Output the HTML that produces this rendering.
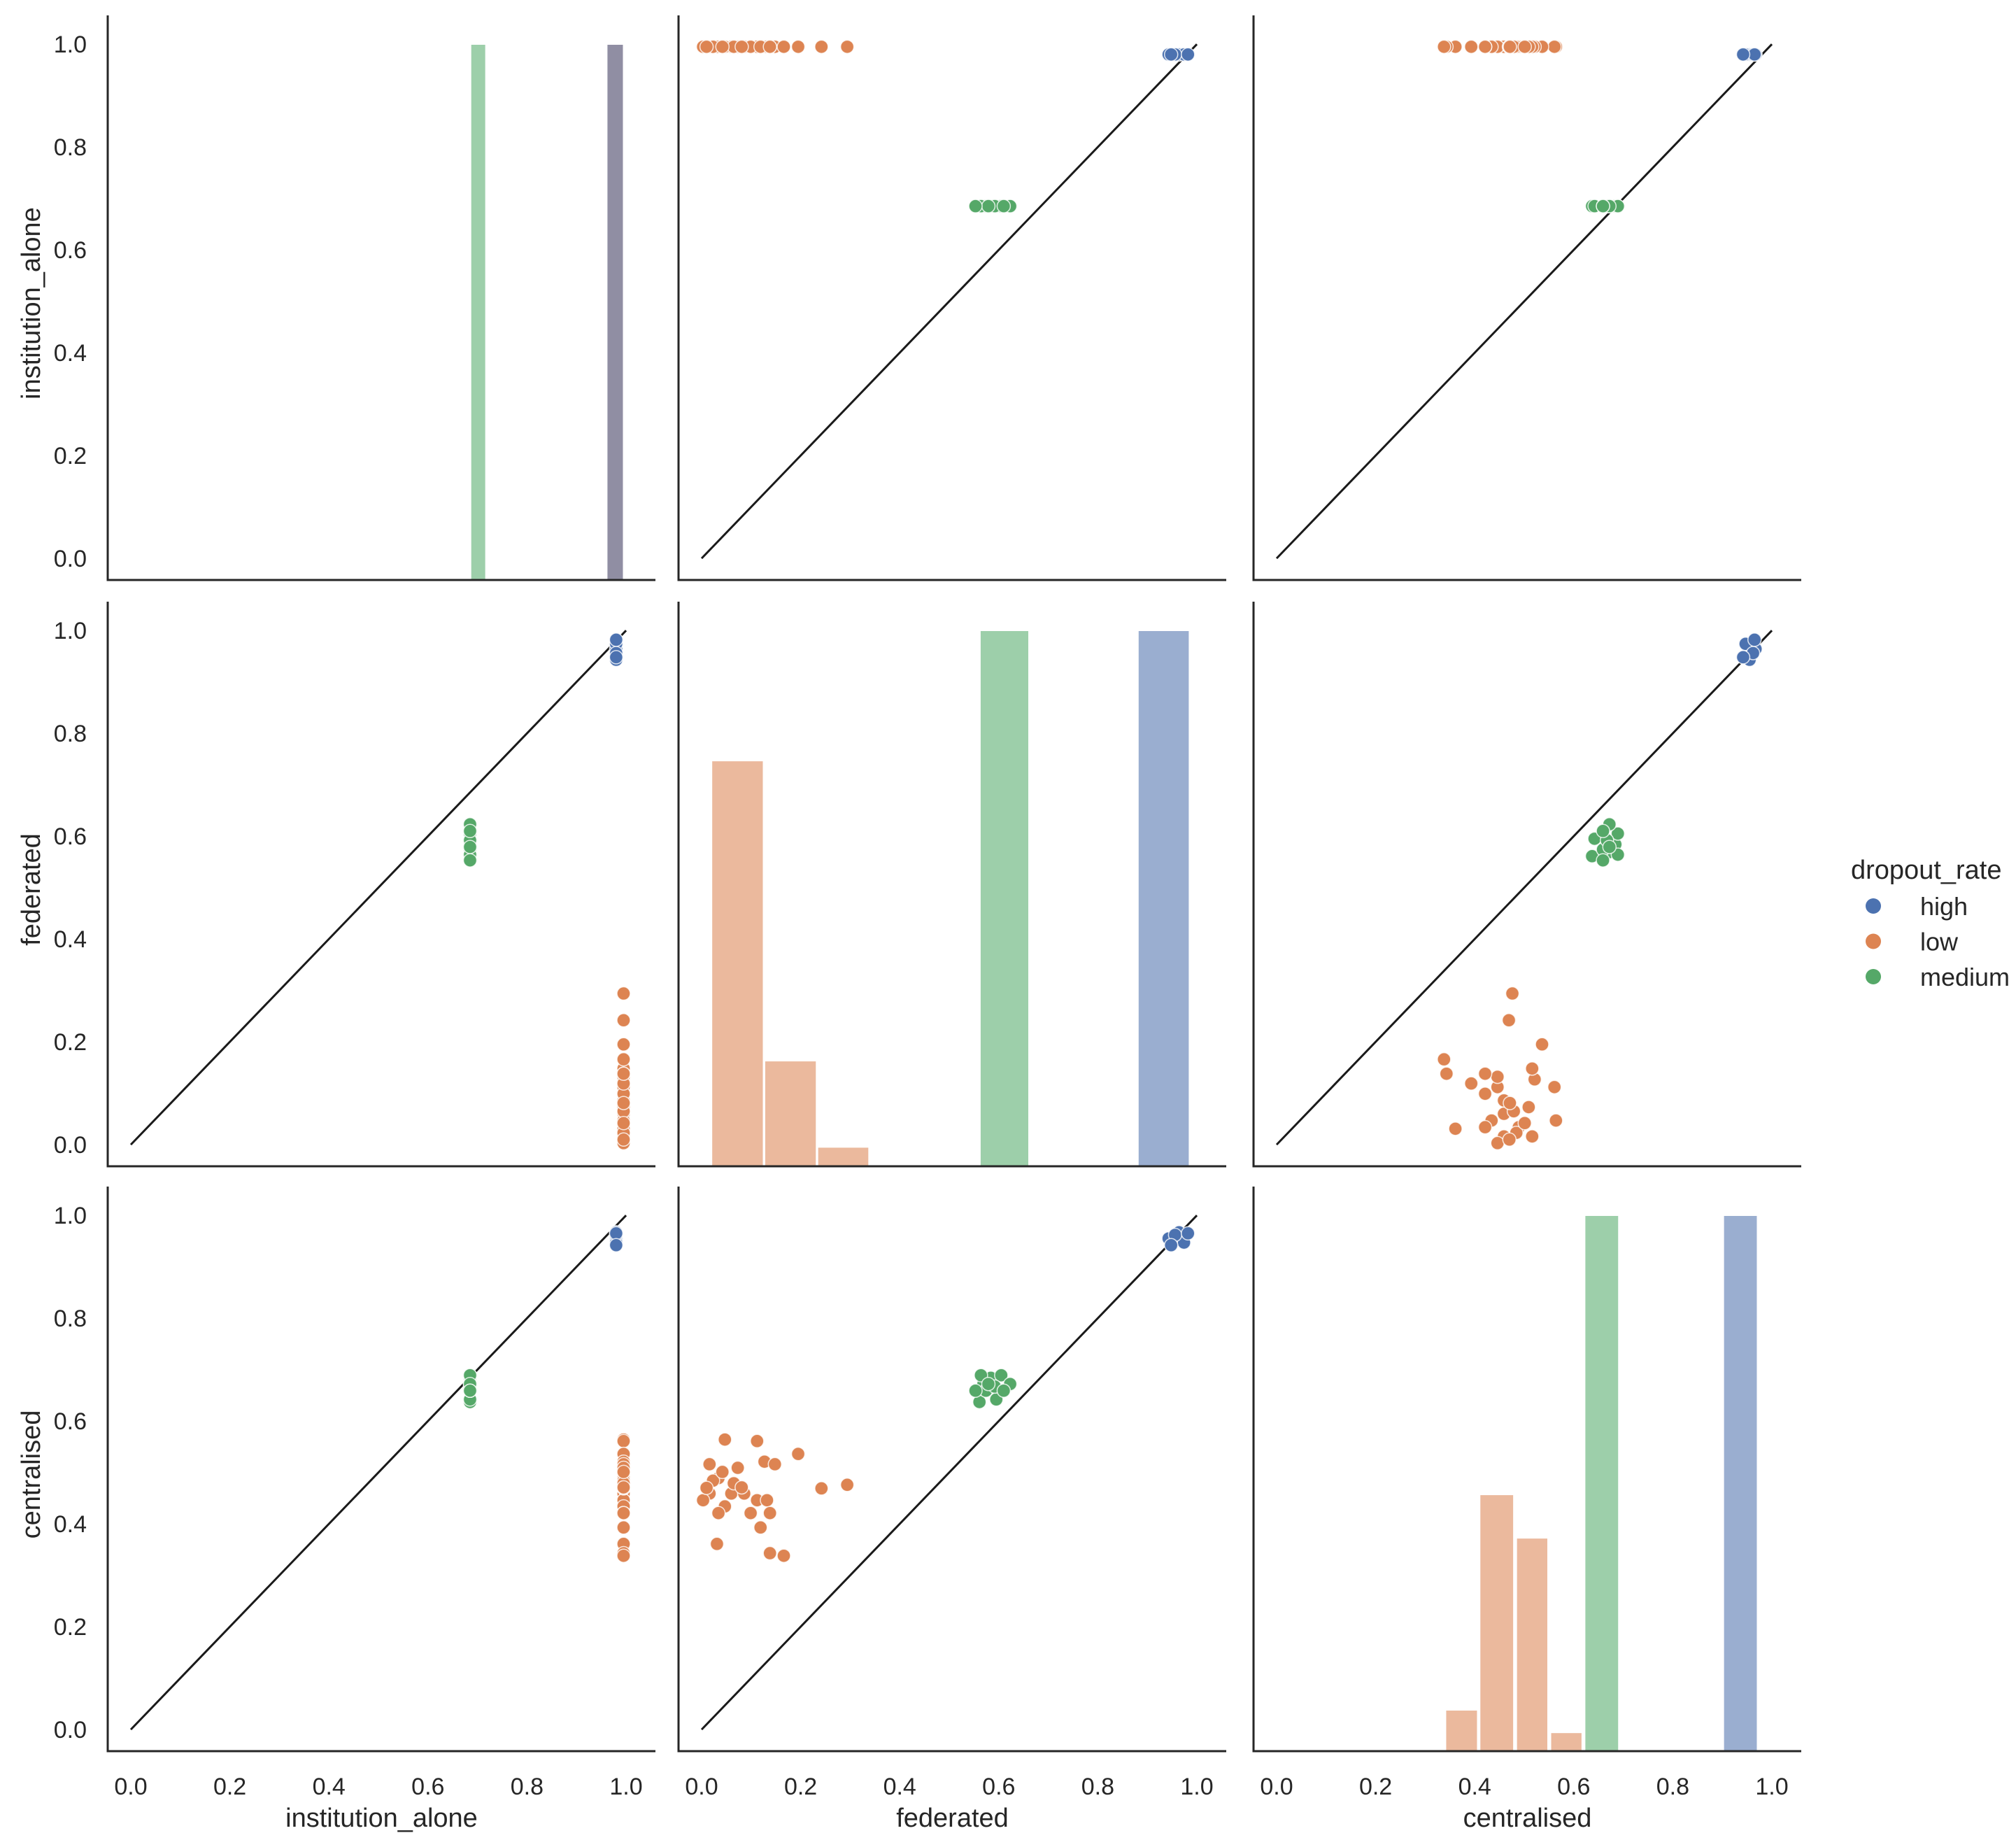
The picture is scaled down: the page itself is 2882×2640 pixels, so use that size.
<!DOCTYPE html>
<html><head><meta charset="utf-8">
<style>
html,body{margin:0;padding:0;background:#fff;}
svg{display:block;font-family:"Liberation Sans",Arial,sans-serif;}
</style></head>
<body>
<svg id="chart" width="2882" height="2640" viewBox="0 0 2882 2640" xmlns="http://www.w3.org/2000/svg"></svg>
<script>
// ---------- data ----------
const variables = ["institution_alone","federated","centralised"];
const groups = ["high","low","medium"];
const groupColors = ["#4c72b0","#dd8452","#55a868"];
const tickValues = [0.0,0.2,0.4,0.6,0.8,1.0];
const tickLabels = ["0.0","0.2","0.4","0.6","0.8","1.0"];

// per-group points: institution_alone, federated, centralised
const highInst = [0.98,0.98,0.98,0.98,0.98,0.98];
const highFed  = [0.943,0.964,0.974,0.956,0.982,0.948];
const highCen  = [0.955,0.967,0.947,0.962,0.965,0.942];

const medInst = [0.685,0.685,0.685,0.685,0.685,0.685,0.685,0.685,0.685,0.685,0.685,0.685];
const medFed  = [0.561,0.595,0.569,0.584,0.605,0.623,0.574,0.592,0.564,0.579,0.610,0.553];
const medCen  = [0.637,0.642,0.672,0.684,0.689,0.672,0.659,0.667,0.689,0.672,0.659,0.659];

const lowInst = [0.995,0.995,0.995,0.995,0.995,0.995,0.995,0.995,0.995,0.995,0.995,0.995,0.995,0.995,0.995,0.995,0.995,0.995,0.995,0.995,0.995,0.995,0.995,0.995,0.995,0.995,0.995,0.995,0.995];
const lowFed  = [0.016,0.047,0.112,0.195,0.127,0.148,0.034,0.073,0.016,0.003,0.060,0.086,0.112,0.132,0.047,0.034,0.099,0.138,0.119,0.031,0.138,0.166,0.242,0.294,0.023,0.065,0.010,0.042,0.081];
const lowCen  = [0.516,0.564,0.561,0.536,0.521,0.516,0.489,0.509,0.459,0.446,0.459,0.459,0.446,0.446,0.434,0.421,0.421,0.421,0.393,0.361,0.343,0.338,0.469,0.476,0.484,0.479,0.470,0.501,0.471];

// diagonal histogram bars: [start, end, height] per variable
const histInstStart = [0.686,0.961];
const histInstEnd   = [0.717,0.995];
const histInstH     = [1.0,1.0];
const histInstColor = ["#9dcfaa","#908ea3"];
const histFedStart = [0.02,0.127,0.234,0.562,0.881];
const histFedEnd   = [0.125,0.232,0.338,0.661,0.985];
const histFedH     = [0.757,0.197,0.036,1.0,1.0];
const histFedColor = ["#ebb99d","#ebb99d","#ebb99d","#9dcfaa","#9aaed0"];
const histCenStart = [0.341,0.410,0.484,0.553,0.622,0.902];
const histCenEnd   = [0.406,0.479,0.548,0.617,0.691,0.971];
const histCenH     = [0.077,0.479,0.398,0.035,1.0,1.0];
const histCenColor = ["#ebb99d","#ebb99d","#ebb99d","#ebb99d","#9dcfaa","#9aaed0"];

// ---------- layout ----------
const NS="http://www.w3.org/2000/svg";
const svg=document.getElementById('chart');
const colX=[154,970,1792], colW=783;
const rowY=[22,860,1696], rowH=807;
const xmin=-0.0466, xmax=1.0593;
const ymin=-0.042, ymax=1.056;
function sx(c,v){return colX[c]+(v-xmin)/(xmax-xmin)*colW;}
function sy(r,v){return rowY[r]+rowH-(v-ymin)/(ymax-ymin)*rowH;}
function hy(r,h){return rowY[r]+rowH-h*(rowH-41);}
function mk(tag,attrs,parent){const e=document.createElementNS(NS,tag);for(const k in attrs)e.setAttribute(k,attrs[k]);(parent||svg).appendChild(e);return e;}

const series={
  high:[highInst,highFed,highCen],
  low:[lowInst,lowFed,lowCen],
  medium:[medInst,medFed,medCen]
};
const hists=[[histInstStart,histInstEnd,histInstH,histInstColor],[histFedStart,histFedEnd,histFedH,histFedColor],[histCenStart,histCenEnd,histCenH,histCenColor]];

for(let r=0;r<3;r++){
  for(let c=0;c<3;c++){
    const g=mk('g',{});
    
    
    if(r===c){
      const h=hists[r];
      for(let i=0;i<h[0].length;i++){
        const x0=sx(c,h[0][i]),x1=sx(c,h[1][i]),y=hy(r,h[2][i]);
        const b=mk('rect',{x:x0,y:y,width:x1-x0,height:rowY[r]+rowH-y,fill:h[3][i],stroke:'#fff','stroke-width':2},g);
        
        
      }
    } else {
      const ln=mk('line',{x1:sx(c,0),y1:sy(r,0),x2:sx(c,1),y2:sy(r,1),stroke:'#1a1a1a','stroke-width':3},g);
      
      
      groups.forEach((gr,gi)=>{
        const xs=series[gr][c], ys=series[gr][r];
        for(let i=0;i<xs.length;i++){
          const p=mk('circle',{cx:sx(c,xs[i]),cy:sy(r,ys[i]),r:9.5,fill:groupColors[gi],stroke:'#fff','stroke-width':1.5,'stroke-opacity':0.8},g);
          
          
        }
      });
    }
    const sp=mk('path',{d:`M${colX[c]},${rowY[r]} V${rowY[r]+rowH} H${colX[c]+colW}`,fill:'none',stroke:'#262626','stroke-width':3},g);
    
    
    if(c===0){
      tickValues.forEach((v,i)=>{
        const t=mk('text',{x:124,y:sy(r,v)+12,'text-anchor':'end','font-size':34,fill:'#262626'},g);
        t.textContent=tickLabels[i];
        
        
      });
      const yl=mk('text',{x:0,y:0,'text-anchor':'middle','font-size':38,fill:'#262626',transform:`translate(57,${rowY[r]+rowH/2+8}) rotate(-90)`},g);
      yl.textContent=variables[r];
      
      
    }
    if(r===2){
      tickValues.forEach((v,i)=>{
        const t=mk('text',{x:sx(c,v),y:2565,'text-anchor':'middle','font-size':34,fill:'#262626'},g);
        t.textContent=tickLabels[i];
        
        
      });
      const xl=mk('text',{x:colX[c]+colW/2,y:2611,'text-anchor':'middle','font-size':38,fill:'#262626'},g);
      xl.textContent=variables[c];
      
      
    }
  }
}
// legend
const lg=mk('g',{});


const lt=mk('text',{x:2646,y:1256,'font-size':38,fill:'#262626'},lg);
lt.textContent='dropout_rate';


groups.forEach((gr,gi)=>{
  const y=1295+gi*50.5;
  const m=mk('circle',{cx:2678,cy:y,r:11,fill:groupColors[gi]},lg);
  
  
  const t=mk('text',{x:2745,y:y+13,'font-size':36,fill:'#262626'},lg);
  t.textContent=gr;
  
  
});
</script>
</body></html>
